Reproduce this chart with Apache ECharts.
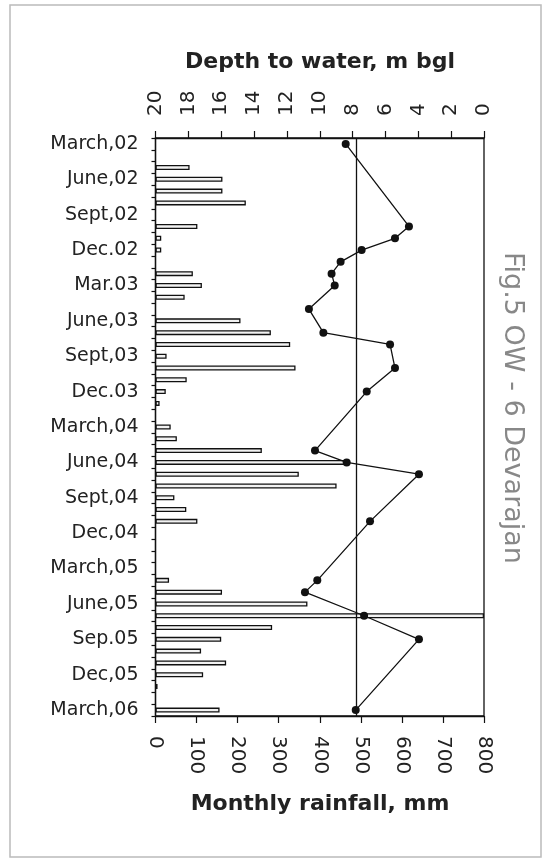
<!DOCTYPE html>
<html>
<head>
<meta charset="utf-8">
<script src="https://cdn.jsdelivr.net/npm/echarts@6/dist/echarts.min.js"></script>
<style>html,body{margin:0;padding:0;background:#fff;}#c{width:547px;height:860px;}</style>
</head>
<body>
<div id="c"></div>
<script>
// Months March 2002 .. March 2006 (49 months)
var months = ["Mar-02","Apr-02","May-02","Jun-02","Jul-02","Aug-02","Sep-02","Oct-02","Nov-02","Dec-02",
  "Jan-03","Feb-03","Mar-03","Apr-03","May-03","Jun-03","Jul-03","Aug-03","Sep-03","Oct-03","Nov-03","Dec-03",
  "Jan-04","Feb-04","Mar-04","Apr-04","May-04","Jun-04","Jul-04","Aug-04","Sep-04","Oct-04","Nov-04","Dec-04",
  "Jan-05","Feb-05","Mar-05","Apr-05","May-05","Jun-05","Jul-05","Aug-05","Sep-05","Oct-05","Nov-05","Dec-05",
  "Jan-06","Feb-06","Mar-06"];
// Labels shown every third month
var monthLabels = ["March,02","June,02","Sept,02","Dec.02","Mar.03","June,03","Sept,03","Dec.03",
  "March,04","June,04","Sept,04","Dec,04","March,05","June,05","Sep.05","Dec,05","March,06"];
// Monthly rainfall, mm
var rainfall = [null,null,83,163,163,220,null,102,14,14,
  null,91,113,71,null,207,281,328,27,341,76,25,
  10,null,37,52,259,460,349,441,46,75,102,null,
  null,null,null,33,162,370,800,284,160,111,172,116,
  5,null,156];
// Depth to water, m bgl
var depth = [8.42,null,null,null,null,null,null,4.57,5.42,7.45,
  8.73,9.28,9.09,null,10.66,null,9.78,5.72,null,5.42,null,7.14,
  null,null,null,null,10.29,8.36,3.96,null,null,null,6.94,null,
  null,null,null,10.15,10.9,null,7.3,null,3.96,null,null,null,
  null,null,7.81];
var rainTicks = {min:0, max:800, interval:100};
var depthTicks = {min:0, max:20, interval:2};
var refRain = 490;

var FONT = 'DejaVu Sans';
var chart = echarts.init(document.getElementById('c'), null, {renderer:'canvas'});
chart.setOption({
  animation:false,
  backgroundColor:'#fff',
  grid:{left:155.5, right:63, top:138, bottom:144, show:true, borderColor:'#111', borderWidth:1.3, backgroundColor:'transparent'},
  xAxis:[{
    type:'value', position:'bottom', min:rainTicks.min, max:rainTicks.max, interval:rainTicks.interval,
    axisLine:{show:true, lineStyle:{color:'#111', width:1.3}},
    axisTick:{show:true, length:7, lineStyle:{color:'#111', width:1.2}},
    splitLine:{show:false},
    axisLabel:{rotate:-90, margin:20, fontSize:20, fontFamily:FONT, color:'#222'}
  },{
    type:'value', position:'top', min:depthTicks.min, max:depthTicks.max, interval:depthTicks.interval, inverse:true,
    axisLine:{show:true, lineStyle:{color:'#111', width:1.3}},
    axisTick:{show:true, length:7, lineStyle:{color:'#111', width:1.2}},
    splitLine:{show:false},
    axisLabel:{rotate:-90, margin:22, fontSize:20, fontFamily:FONT, color:'#222'}
  }],
  yAxis:{
    type:'category', data:months, inverse:true, boundaryGap:true,
    axisLine:{show:true, lineStyle:{color:'#111', width:1.3}},
    axisTick:{show:true, length:4, interval:0, lineStyle:{color:'#111', width:1.2}},
    splitLine:{show:false},
    axisLabel:{interval:2, margin:17, fontSize:19, fontFamily:FONT, color:'#222',
      formatter:function(v, i){ return i % 3 === 0 ? monthLabels[i/3] : ''; }}
  },
  series:[{
    type:'bar', xAxisIndex:0, data:rainfall, barWidth:5,
    itemStyle:{color:'#f2f2f2', borderColor:'#111', borderWidth:1.3},
    markLine:{silent:true, symbol:['none','none'], label:{show:false},
      lineStyle:{color:'#111', width:1.3, type:'solid'}, data:[{xAxis:refRain}]}
  },{
    type:'line', xAxisIndex:1, data:depth, connectNulls:true, showAllSymbol:true,
    symbol:'circle', symbolSize:8, lineStyle:{color:'#111', width:1.3},
    itemStyle:{color:'#111'}
  }],
  graphic:[
    {type:'rect', shape:{x:10, y:5, width:531, height:852}, style:{fill:'none', stroke:'#bbb', lineWidth:1.5}, silent:true},
    {type:'text', x:320, y:62, style:{text:'Depth to water, m bgl', font:'bold 22px "DejaVu Sans"', fill:'#222', textAlign:'center', textVerticalAlign:'middle'}},
    {type:'text', x:320, y:804, style:{text:'Monthly rainfall, mm', font:'bold 22px "DejaVu Sans"', fill:'#222', textAlign:'center', textVerticalAlign:'middle'}},
    {type:'text', x:512, y:408, rotation:-Math.PI/2, style:{text:'Fig.5 OW - 6 Devarajan', font:'27px "DejaVu Sans"', fill:'#888', textAlign:'center', textVerticalAlign:'middle'}}
  ]
});
</script>
</body>
</html>
